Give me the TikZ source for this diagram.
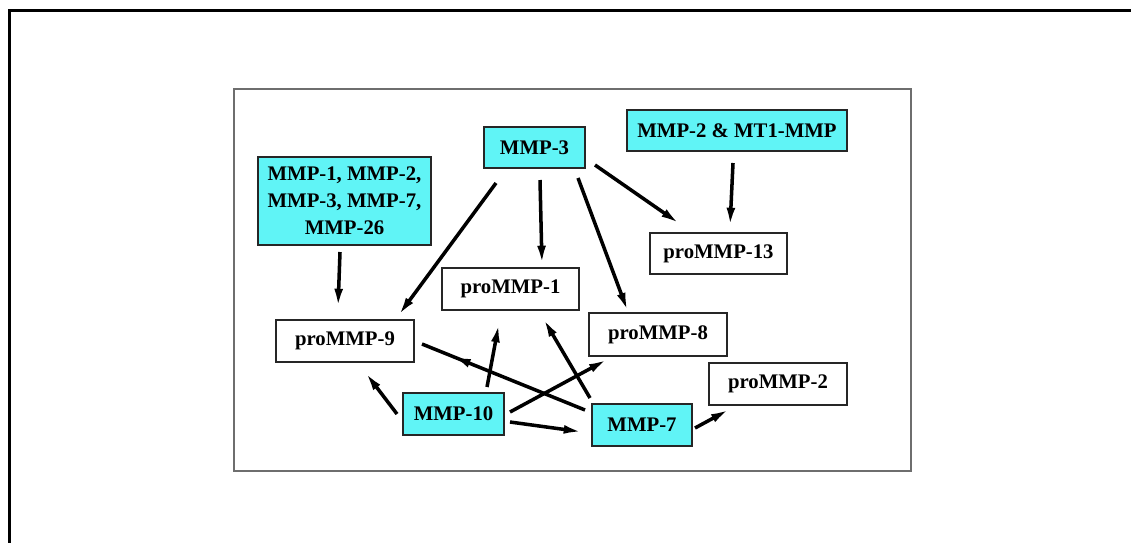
\documentclass[tikz,border=0pt]{standalone}
\usepackage{fontspec}
\setmainfont{Liberation Serif}
\usetikzlibrary{arrows.meta,calc,decorations.markings}
\definecolor{boxcyan}{RGB}{96,244,246}
\definecolor{framegray}{RGB}{110,110,110}
\begin{document}
\begin{tikzpicture}[x=0.02cm,y=-0.02cm,
  every node/.style={font=\bfseries\fontsize{11.8}{15.3}\selectfont, inner sep=0pt, align=center},
  cbox/.style={draw=black!85, line width=1.1pt, fill=boxcyan},
  wbox/.style={draw=black!85, line width=1.1pt, fill=white},
  conn/.style={line width=2pt, -{Latex[length=11pt,width=5pt]}},
  midhead/.style={line width=2pt, postaction={decorate}, decoration={markings, mark=at position 0.82 with {\arrow{Latex[length=11pt,width=5pt]}}}}
]
\useasboundingbox (0,0) rectangle (1131,542);
% outer partial frame
\draw[line width=2.2pt, line cap=rect] (1131,10.5) -- (9.5,10.5) -- (9.5,542);
% inner frame
\draw[framegray, line width=1.1pt] (234,89) rectangle (911,471);

% nodes
\node[cbox, minimum width=2.02cm, minimum height=0.82cm] (m3) at (534.5,147.5) {MMP-3};
\node[cbox, minimum width=4.4cm, minimum height=0.82cm] (m2mt) at (737,130.5) {MMP-2 \& MT1-MMP};
\node[cbox, minimum width=3.46cm, minimum height=1.76cm] (mlist) at (344.5,201) {MMP-1, MMP-2,\\MMP-3, MMP-7,\\MMP-26};
\node[wbox, minimum width=2.74cm, minimum height=0.82cm] (p13) at (718.5,253.5) {proMMP-13};
\node[wbox, minimum width=2.74cm, minimum height=0.84cm] (p1) at (510.5,289) {proMMP-1};
\node[wbox, minimum width=2.76cm, minimum height=0.84cm] (p9) at (345,341) {proMMP-9};
\node[wbox, minimum width=2.76cm, minimum height=0.86cm] (p8) at (658,334.5) {proMMP-8};
\node[wbox, minimum width=2.76cm, minimum height=0.84cm] (p2) at (778,384) {proMMP-2};
\node[cbox, minimum width=2.02cm, minimum height=0.84cm] (m10) at (453.5,414) {MMP-10};
\node[cbox, minimum width=2.0cm, minimum height=0.84cm] (m7) at (642,425) {MMP-7};

% connectors
\draw[conn] ($(m3.center)+(-38.5,35.5)$) -- ($(p9.center)+(53,-25)$);
\draw[conn] ($(m3.center)+(5.5,32.5)$) -- ($(p1.center)+(31.5,-24)$);
\draw[conn] ($(m3.center)+(43.5,30.5)$) -- ($(p8.center)+(-30,-22.5)$);
\draw[conn] ($(m3.center)+(60.5,17.5)$) -- ($(p13.center)+(-38.5,-29.5)$);
\draw[conn] ($(m2mt.center)+(-4,32.5)$) -- ($(p13.center)+(11.5,-26.5)$);
\draw[conn] ($(mlist.center)+(-4.5,51)$) -- ($(p9.center)+(-7,-33)$);
\draw[conn] ($(m10.center)+(-56.5,0)$) -- ($(p9.center)+(20,31)$);
\draw[conn] ($(m10.center)+(33.5,-27)$) -- ($(p1.center)+(-11.5,34)$);
\draw[conn] ($(m7.center)+(-52,-27)$) -- ($(p1.center)+(32.5,29)$);
\draw[midhead] ($(m7.center)+(-57,-15)$) -- ($(p9.center)+(77,3)$);
\draw[conn] ($(m10.center)+(56.5,-2)$) -- ($(p8.center)+(-50,24.5)$);
\draw[conn] ($(m10.center)+(56.5,8)$) -- ($(m7.center)+(-59,7)$);
\draw[conn] ($(m7.center)+(53,3)$) -- ($(p2.center)+(-48,25)$);
\end{tikzpicture}
\end{document}
